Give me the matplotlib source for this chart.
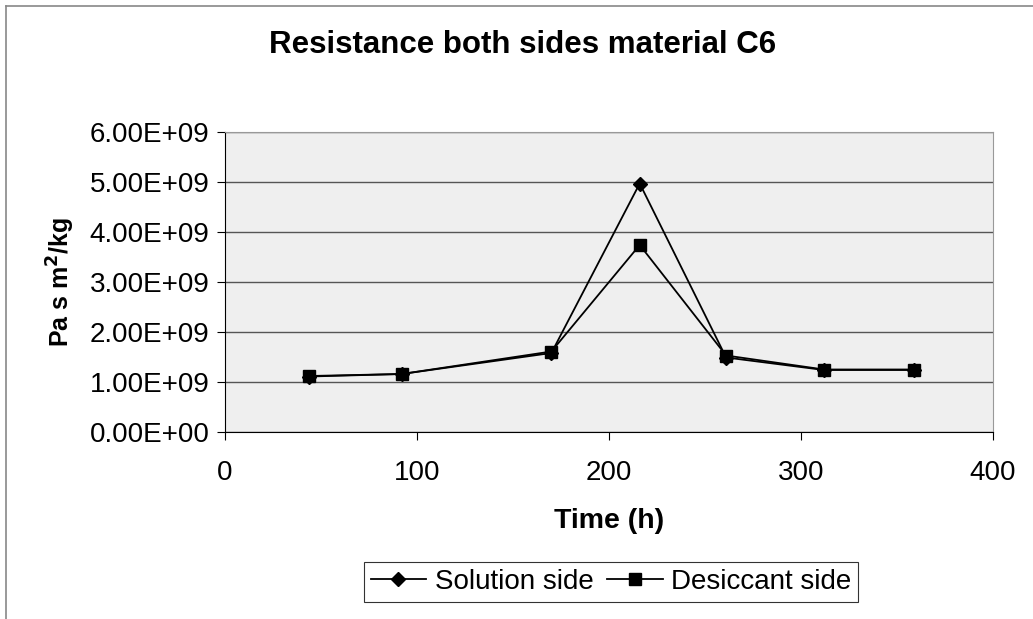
import numpy as np
import matplotlib.pyplot as plt
from matplotlib.lines import Line2D

plt.rcParams['font.family'] = ['Liberation Sans', 'DejaVu Sans']

# data
time_h = [44, 92, 170, 216, 261, 312, 359]
solution_side = [1.11e9, 1.16e9, 1.58e9, 4.97e9, 1.49e9, 1.24e9, 1.24e9]
desiccant_side = [1.12e9, 1.16e9, 1.61e9, 3.74e9, 1.53e9, 1.25e9, 1.25e9]
yticks = [0, 1e9, 2e9, 3e9, 4e9, 5e9, 6e9]
xticks = [0, 100, 200, 300, 400]

W, H = 1033, 619
fig = plt.figure(figsize=(W / 100, H / 100), dpi=100)

# thin chart-area frame (only left/top edges are in the crop)
fig.add_artist(Line2D([6 / W, 6 / W], [0, 1 - 6 / H], color='#888888', lw=1.2))
fig.add_artist(Line2D([6 / W, 1], [1 - 6 / H, 1 - 6 / H], color='#888888', lw=1.2))

ax = fig.add_axes([225 / W, 1 - 432 / H, (993 - 225) / W, (432 - 132) / H])
ax.set_facecolor('#efefef')

ax.plot(time_h, solution_side, color='black', lw=1.3, marker='D', ms=7,
        label='Solution side')
ax.plot(time_h, desiccant_side, color='black', lw=1.3, marker='s', ms=9,
        label='Desiccant side')

ax.set_xlim(0, 400)
ax.set_ylim(0, 6e9)
ax.set_xticks(xticks)
ax.set_yticks(yticks)
ax.set_yticklabels(['{:.2E}'.format(v) for v in yticks])
ax.yaxis.grid(True, color='#555555', lw=1)
ax.set_axisbelow(True)
for s in ['top', 'right']:
    ax.spines[s].set_color('#999999')
    ax.spines[s].set_linewidth(0.8)
for s in ['left', 'bottom']:
    ax.spines[s].set_color('black')
ax.tick_params(axis='both', labelsize=20, length=6, direction='out', pad=5)
ax.tick_params(axis='x', pad=14)

fig.text(0.506, 1 - 45 / H, 'Resistance both sides material C6', fontsize=22.5,
         fontweight='bold', ha='center', va='center')
ax.set_xlabel('Time (h)', fontsize=20.5, fontweight='bold', labelpad=16)
ax.set_ylabel('Pa s m$^\\mathbf{2}$/kg', fontsize=18, fontweight='bold', labelpad=9)

leg = fig.legend(loc='lower center', bbox_to_anchor=(611 / W, 3 / H), ncol=2, fontsize=20,
                 frameon=True, fancybox=False, edgecolor='black',
                 handlelength=2.0, handletextpad=0.3, columnspacing=0.5,
                 borderpad=0.25)
leg.get_frame().set_linewidth(0.8)

fig.savefig('out.png', dpi=100)
